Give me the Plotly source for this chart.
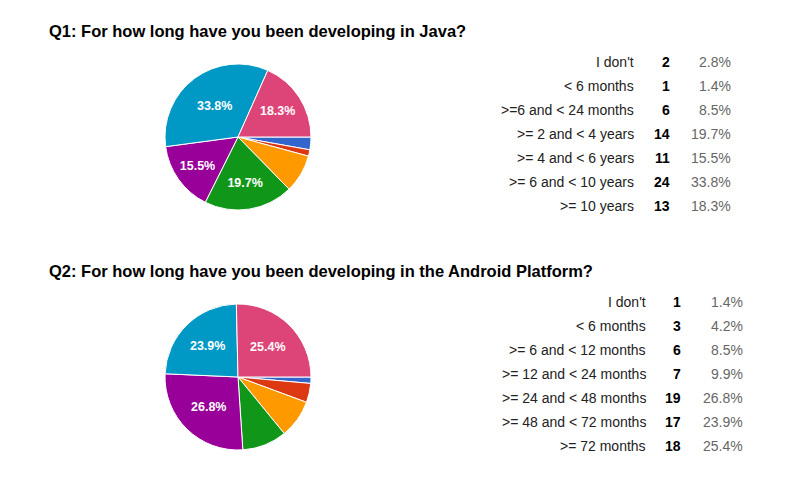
import plotly.graph_objects as go

W, H = 812, 478

q1_title = "Q1: For how long have you been developing in Java?"
q1_labels = ["I don't", "< 6 months", ">=6 and < 24 months", ">= 2 and < 4 years",
             ">= 4 and < 6 years", ">= 6 and < 10 years", ">= 10 years"]
q1_counts = [2, 1, 6, 14, 11, 24, 13]

q2_title = "Q2: For how long have you been developing in the Android Platform?"
q2_labels = ["I don't", "< 6 months", ">= 6 and < 12 months", ">= 12 and < 24 months",
             ">= 24 and < 48 months", ">= 48 and < 72 months", ">= 72 months"]
q2_counts = [1, 3, 6, 7, 19, 17, 18]

colors = ["#3366cc", "#dc3912", "#ff9900", "#109618", "#990099", "#0099c6", "#dd4477"]
FONT = "Arial, 'Liberation Sans', sans-serif"


def px_x(v):
    return v / W


def px_y(v):
    return 1 - v / H


def pct_list(counts):
    t = sum(counts)
    return [100.0 * c / t for c in counts]


fig = go.Figure()

sections = [
    dict(title=q1_title, labels=q1_labels, counts=q1_counts, top=0,
         cols=(636, 672, 733)),
    dict(title=q2_title, labels=q2_labels, counts=q2_counts, top=240,
         cols=(648, 683, 745)),
]

annotations = []
for s in sections:
    top = s["top"]
    pcts = pct_list(s["counts"])
    slice_text = [f"<b>{p:.1f}%</b>" if p >= 12 else "" for p in pcts]
    cx, cy, r = 238, top + 137, 73
    fig.add_trace(go.Pie(
        labels=s["labels"], values=s["counts"], sort=False,
        direction="clockwise", rotation=90,
        marker=dict(colors=colors, line=dict(color="white", width=1)),
        text=slice_text, textinfo="text", textposition="inside",
        insidetextorientation="horizontal",
        textfont=dict(color="white", size=12.5, family=FONT),
        domain=dict(x=[px_x(cx - r), px_x(cx + r)], y=[px_y(cy + r), px_y(cy - r)]),
        showlegend=False, hoverinfo="label+value+percent",
    ))
    annotations.append(dict(
        text=f"<b>{s['title']}</b>", x=px_x(47), y=px_y(top + 31),
        xref="paper", yref="paper", xanchor="left", yanchor="middle",
        showarrow=False, font=dict(size=16.5, color="#000000", family=FONT)))
    lx, nx, ppx = s["cols"]
    for i, (lab, cnt, p) in enumerate(zip(s["labels"], s["counts"], pcts)):
        yy = px_y(top + 62 + 24 * i)
        annotations.append(dict(text=lab, x=px_x(lx), y=yy, xref="paper", yref="paper",
                                xanchor="right", yanchor="middle", showarrow=False,
                                font=dict(size=14, color="#222222", family=FONT)))
        annotations.append(dict(text=f"<b>{cnt}</b>", x=px_x(nx), y=yy, xref="paper", yref="paper",
                                xanchor="right", yanchor="middle", showarrow=False,
                                font=dict(size=14, color="#000000", family=FONT)))
        annotations.append(dict(text=f"{p:.1f}%", x=px_x(ppx), y=yy, xref="paper", yref="paper",
                                xanchor="right", yanchor="middle", showarrow=False,
                                font=dict(size=14, color="#666666", family=FONT)))

fig.update_layout(
    width=W, height=H, margin=dict(l=0, r=0, t=0, b=0),
    paper_bgcolor="white", plot_bgcolor="white",
    annotations=annotations, font=dict(family=FONT),
)

fig.write_html("out.html")
